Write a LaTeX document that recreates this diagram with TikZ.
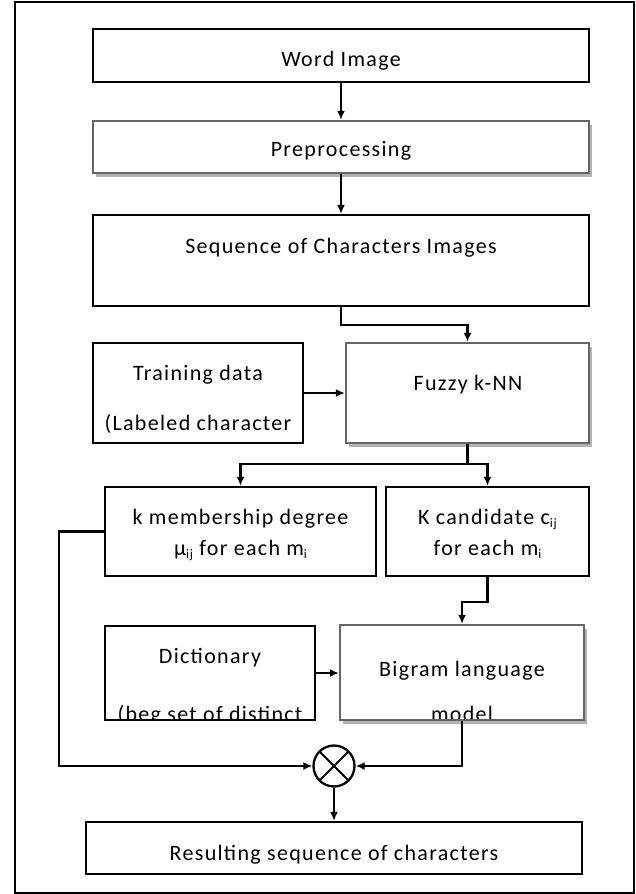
\documentclass[tikz,border=0pt]{standalone}
\usepackage{fontspec}
\setmainfont{Carlito}[LetterSpace=6]
\usetikzlibrary{arrows.meta,shadows}

\newcommand{\lowtext}[1]{\raisebox{-3pt}{\fontsize{13}{13}\selectfont #1}}

\tikzset{
  box/.style={draw, line width=2.3pt, fill=white, inner sep=0pt},
  softbox/.style={box, draw=black!60,
    drop shadow={shadow xshift=3pt, shadow yshift=-4pt, fill=black!30, opacity=1}},
  txt/.style={anchor=base, inner sep=0pt},
  link/.style={line width=2.3pt, -{Latex[length=9pt,width=8pt]}},
}

\begin{document}
\begin{tikzpicture}[x=1pt,y=-1pt,font=\fontsize{22}{26}\selectfont]
    \useasboundingbox (0,0) rectangle (636,894);
    \draw[line width=2.3pt] (15,2) rectangle (634,893);

    % boxes
    \node[box, minimum width=496.5pt, minimum height=53pt] (word) at (341,55.5) {};
    \node[softbox, minimum width=496.5pt, minimum height=52pt] (prep) at (341,147) {};
    \node[box, minimum width=496.5pt, minimum height=91pt] (seq) at (341,260.5) {};
    \node[box, minimum width=210.5pt, minimum height=100pt] (train) at (198,393) {};
    \node[softbox, minimum width=243pt, minimum height=100pt] (fuzzy) at (467.5,393) {};
    \node[box, minimum width=271pt, minimum height=89pt] (memb) at (240.5,531.5) {};
    \node[box, minimum width=203pt, minimum height=89pt] (cand) at (487.5,531.5) {};
    \node[box, minimum width=210pt, minimum height=94pt,
      path picture={\node[txt] (dictmore) at ([yshift=-1pt]path picture bounding box.south) {(beg set of distinct};}]
      (dict) at (210,673) {};
    \node[softbox, minimum width=244pt, minimum height=95pt,
      path picture={\node[txt] (bigrammore) at ([yshift=-1pt]path picture bounding box.south) {model};}]
      (bigram) at (462,672.5) {};
    \node[draw, circle, line width=2.3pt, minimum size=41pt, inner sep=0pt,
      path picture={\draw[line width=2pt] (path picture bounding box.north west) -- (path picture bounding box.south east)
        (path picture bounding box.north east) -- (path picture bounding box.south west);}]
      (mul) at (334,766) {};
    \node[box, minimum width=496pt, minimum height=52pt] (result) at (334,848) {};

    % texts
    \node[txt] (wordtxt) at (341,66) {Word Image};
    \node[txt] (preptxt) at (341,156) {Preprocessing};
    \node[txt] (seqtxt) at (341,253) {Sequence of Characters Images};
    \node[txt] (traintxt) at (198,380) {Training data};
    \node[txt] (trainmore) at (198,430) {(Labeled character};
    \node[txt] (fuzzytxt) at (468,390) {Fuzzy k-NN};
    \node[txt] (membtxt) at (240.5,524) {k membership degree};
    \node[txt] (membmore) at (240.5,555) {µ\lowtext{ij} for each m\lowtext{i}};
    \node[txt] (candtxt) at (487.5,524) {K candidate c\lowtext{ij}};
    \node[txt] (candmore) at (487.5,555) {for each m\lowtext{i}};
    \node[txt] (dicttxt) at (210,663) {Dictionary};
    \node[txt] (bigramtxt) at (462,676) {Bigram language};
    \node[txt] (resulttxt) at (334,860) {Resulting sequence of characters};

    % connectors
    \draw[link] (word.south) -- (prep.north);
    \draw[link] (prep.south) -- (seq.north);
    \draw[link] (seq.south) -- ++(0,18) -| (fuzzy.north);
    \draw[link] (train.east) -- (fuzzy.west);
    \draw[line width=2.3pt] (fuzzy.south) -- ++(0,20) coordinate (fork);
    \draw[link] (fork) -| (memb.north);
    \draw[link] (fork) -| (cand.north);
    \draw[link] (cand.south) -- ++(0,25) -| (bigram.north);
    \draw[link] (dict.east) -- (dict.east -| bigram.west);
    \draw[link] (memb.west) -- ++(-45,0) |- (mul.west);
    \draw[link] (bigram.south) |- (mul.east);
    \draw[link] (mul.south) -- (result.north);
\end{tikzpicture}
\end{document}
